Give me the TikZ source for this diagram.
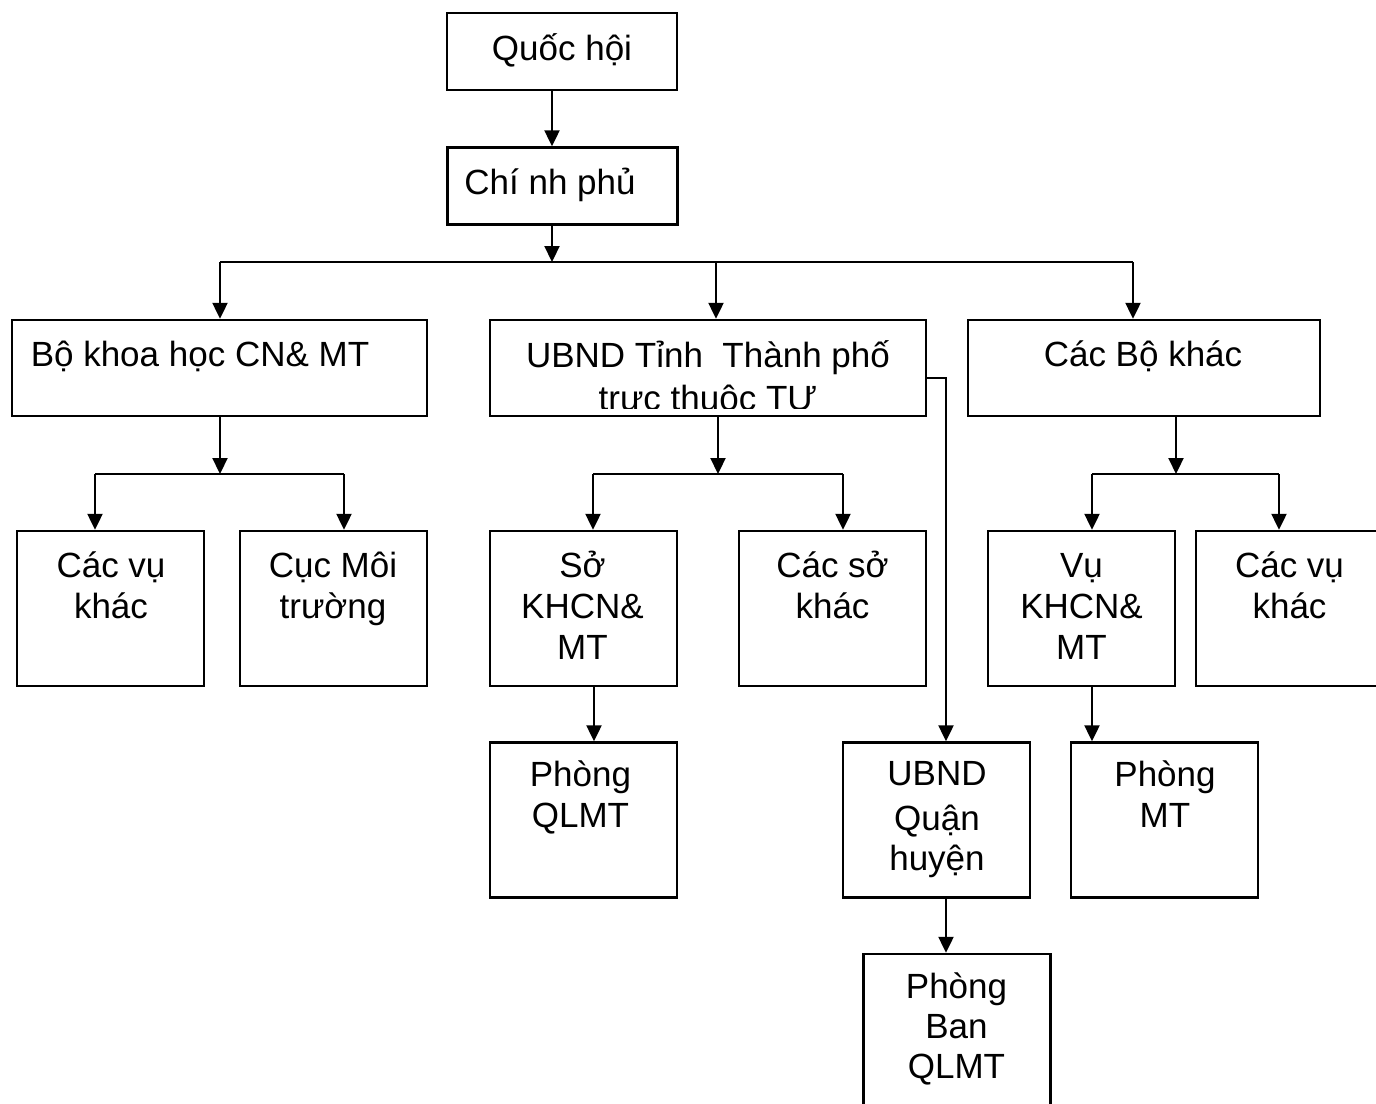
\documentclass[tikz,border=0pt]{standalone}
\usepackage{fontspec}
\setmainfont{Liberation Sans}
\usetikzlibrary{arrows.meta, positioning, calc}

\newcommand\topstrut{\rule{0pt}{36pt}}

\tikzset{
  box/.style={draw, line width=2.4pt, inner sep=0pt},
  cell/.style={box, minimum width=187pt, minimum height=155pt},
  lbl/.style={anchor=north, align=center, inner sep=0pt, font=\fontsize{35}{41}\selectfont},
  arr/.style={line width=2.2pt, -{Triangle[length=16pt, width=15pt]}},
  ln/.style={line width=2.2pt}
}

\begin{document}
\begin{tikzpicture}[x=1pt, y=-1pt]
  \clip (0,0) rectangle (1376,1103);

  % Cap trung uong
  \node[box, minimum width=230pt, minimum height=77pt] (qh) at (562,51.5) {};
  \node[box, minimum width=230pt, minimum height=77pt] (cp) at (562.5,186) {};

  % Cap bo / tinh
  \node[box, minimum width=415pt, minimum height=96pt] (bkh) at (219.5,368) {};
  \node[box, minimum width=436pt, minimum height=96pt] (ubt) at (708,368) {};
  \node[box, minimum width=352pt, minimum height=96pt] (cbk) at (1144,368) {};

  % Cap duoi
  \node[cell] (cvk1) at (110.5,608.5) {};
  \node[cell] (cmt)  at (333.5,608.5) {};
  \node[cell] (skh)  at (583.5,608.5) {};
  \node[cell] (csk)  at (832.5,608.5) {};
  \node[cell] (vkh)  at (1081.5,608.5) {};
  \node[cell] (cvk2) at (1289.5,608.5) {};

  \node[cell] (pql) at (583.5,820) {};
  \node[cell] (uqh) at (936.5,820) {};
  \node[cell] (pmt) at (1164.5,820) {};
  \node[cell] (pbq) at (957,1031.5) {};

  % Chu
  \node[lbl] (tqh)  at (562,24)   {\topstrut Quốc hội};
  \node[lbl] (tcp)  at (550,158)  {\topstrut Chí nh phủ};
  \node[lbl] (tbkh) at (200,330)  {\topstrut Bộ khoa học CN\& MT};
  \begin{scope}
    \clip (490,320) rectangle (926,408);
    \node[lbl] (tubt) at (708,331) {\topstrut UBND Tỉnh\ \ Thành phố\\[2pt]trực thuộc TƯ};
  \end{scope}
  \node[lbl] (tcbk) at (1143,330) {\topstrut Các Bộ khác};

  \node[lbl] (tcvk1) at (111,541)  {\topstrut Các vụ\\khác};
  \node[lbl] (tcmt)  at (333,541)  {\topstrut Cục Môi\\trường};
  \node[lbl] (tskh)  at (582.5,541) {\topstrut Sở\\KHCN\&\\MT};
  \node[lbl] (tcsk)  at (832.5,541) {\topstrut Các sở\\khác};
  \node[lbl] (tvkh)  at (1081.5,541) {\topstrut Vụ\\KHCN\&\\MT};
  \node[lbl] (tcvk2) at (1289.5,541) {\topstrut Các vụ\\khác};

  \node[lbl] (tpql) at (580.5,750) {\topstrut Phòng\\QLMT};
  \node[lbl] (tuqh) at (937,749)   {\topstrut UBND\\[4pt]Quận\\[-1pt]huyện};
  \node[lbl] (tpmt) at (1165,750)  {\topstrut Phòng\\MT};
  \node[lbl] (tpbq) at (956.5,962) {\topstrut Phòng\\[-1pt]Ban\\[-1pt]QLMT};

  % Mui ten
  \coordinate (j0) at (552,262);
  \draw[arr] (qh.south -| j0) -- (cp.north -| j0);
  \draw[arr] (cp.south -| j0) -- (j0);

  \coordinate (d1) at (220,262);
  \coordinate (d2) at (716,262);
  \coordinate (d3) at (1133,262);
  \draw[ln] (d1) -- (d3);
  \draw[arr] (d1) -- (d1 |- bkh.north);
  \draw[arr] (d2) -- (d2 |- ubt.north);
  \draw[arr] (d3) -- (d3 |- cbk.north);

  \coordinate (j1) at (220,474);
  \coordinate (e1) at (95,474);
  \coordinate (e2) at (344,474);
  \draw[arr] (bkh.south -| j1) -- (j1);
  \draw[ln] (e1) -- (e2);
  \draw[arr] (e1) -- (e1 |- cvk1.north);
  \draw[arr] (e2) -- (e2 |- cmt.north);

  \coordinate (j2) at (718,474);
  \coordinate (e3) at (593,474);
  \coordinate (e4) at (843,474);
  \draw[arr] (ubt.south -| j2) -- (j2);
  \draw[ln] (e3) -- (e4);
  \draw[arr] (e3) -- (e3 |- skh.north);
  \draw[arr] (e4) -- (e4 |- csk.north);

  \coordinate (j3) at (1176,474);
  \coordinate (e5) at (1092,474);
  \coordinate (e6) at (1279,474);
  \draw[arr] (cbk.south -| j3) -- (j3);
  \draw[ln] (e5) -- (e6);
  \draw[arr] (e5) -- (e5 |- vkh.north);
  \draw[arr] (e6) -- (e6 |- cvk2.north);

  \coordinate (s1) at ([xshift=10.5pt]skh.south);
  \draw[arr] (s1) -- (s1 |- pql.north);
  \coordinate (v1) at ([xshift=10.5pt]vkh.south);
  \draw[arr] (v1) -- (v1 |- pmt.north);

  \coordinate (r1) at (946,378);
  \draw[arr] (ubt.east |- r1) -- (r1) -- (r1 |- uqh.north);
  \draw[arr] (uqh.south -| r1) -- (pbq.north -| r1);
\end{tikzpicture}
\end{document}
